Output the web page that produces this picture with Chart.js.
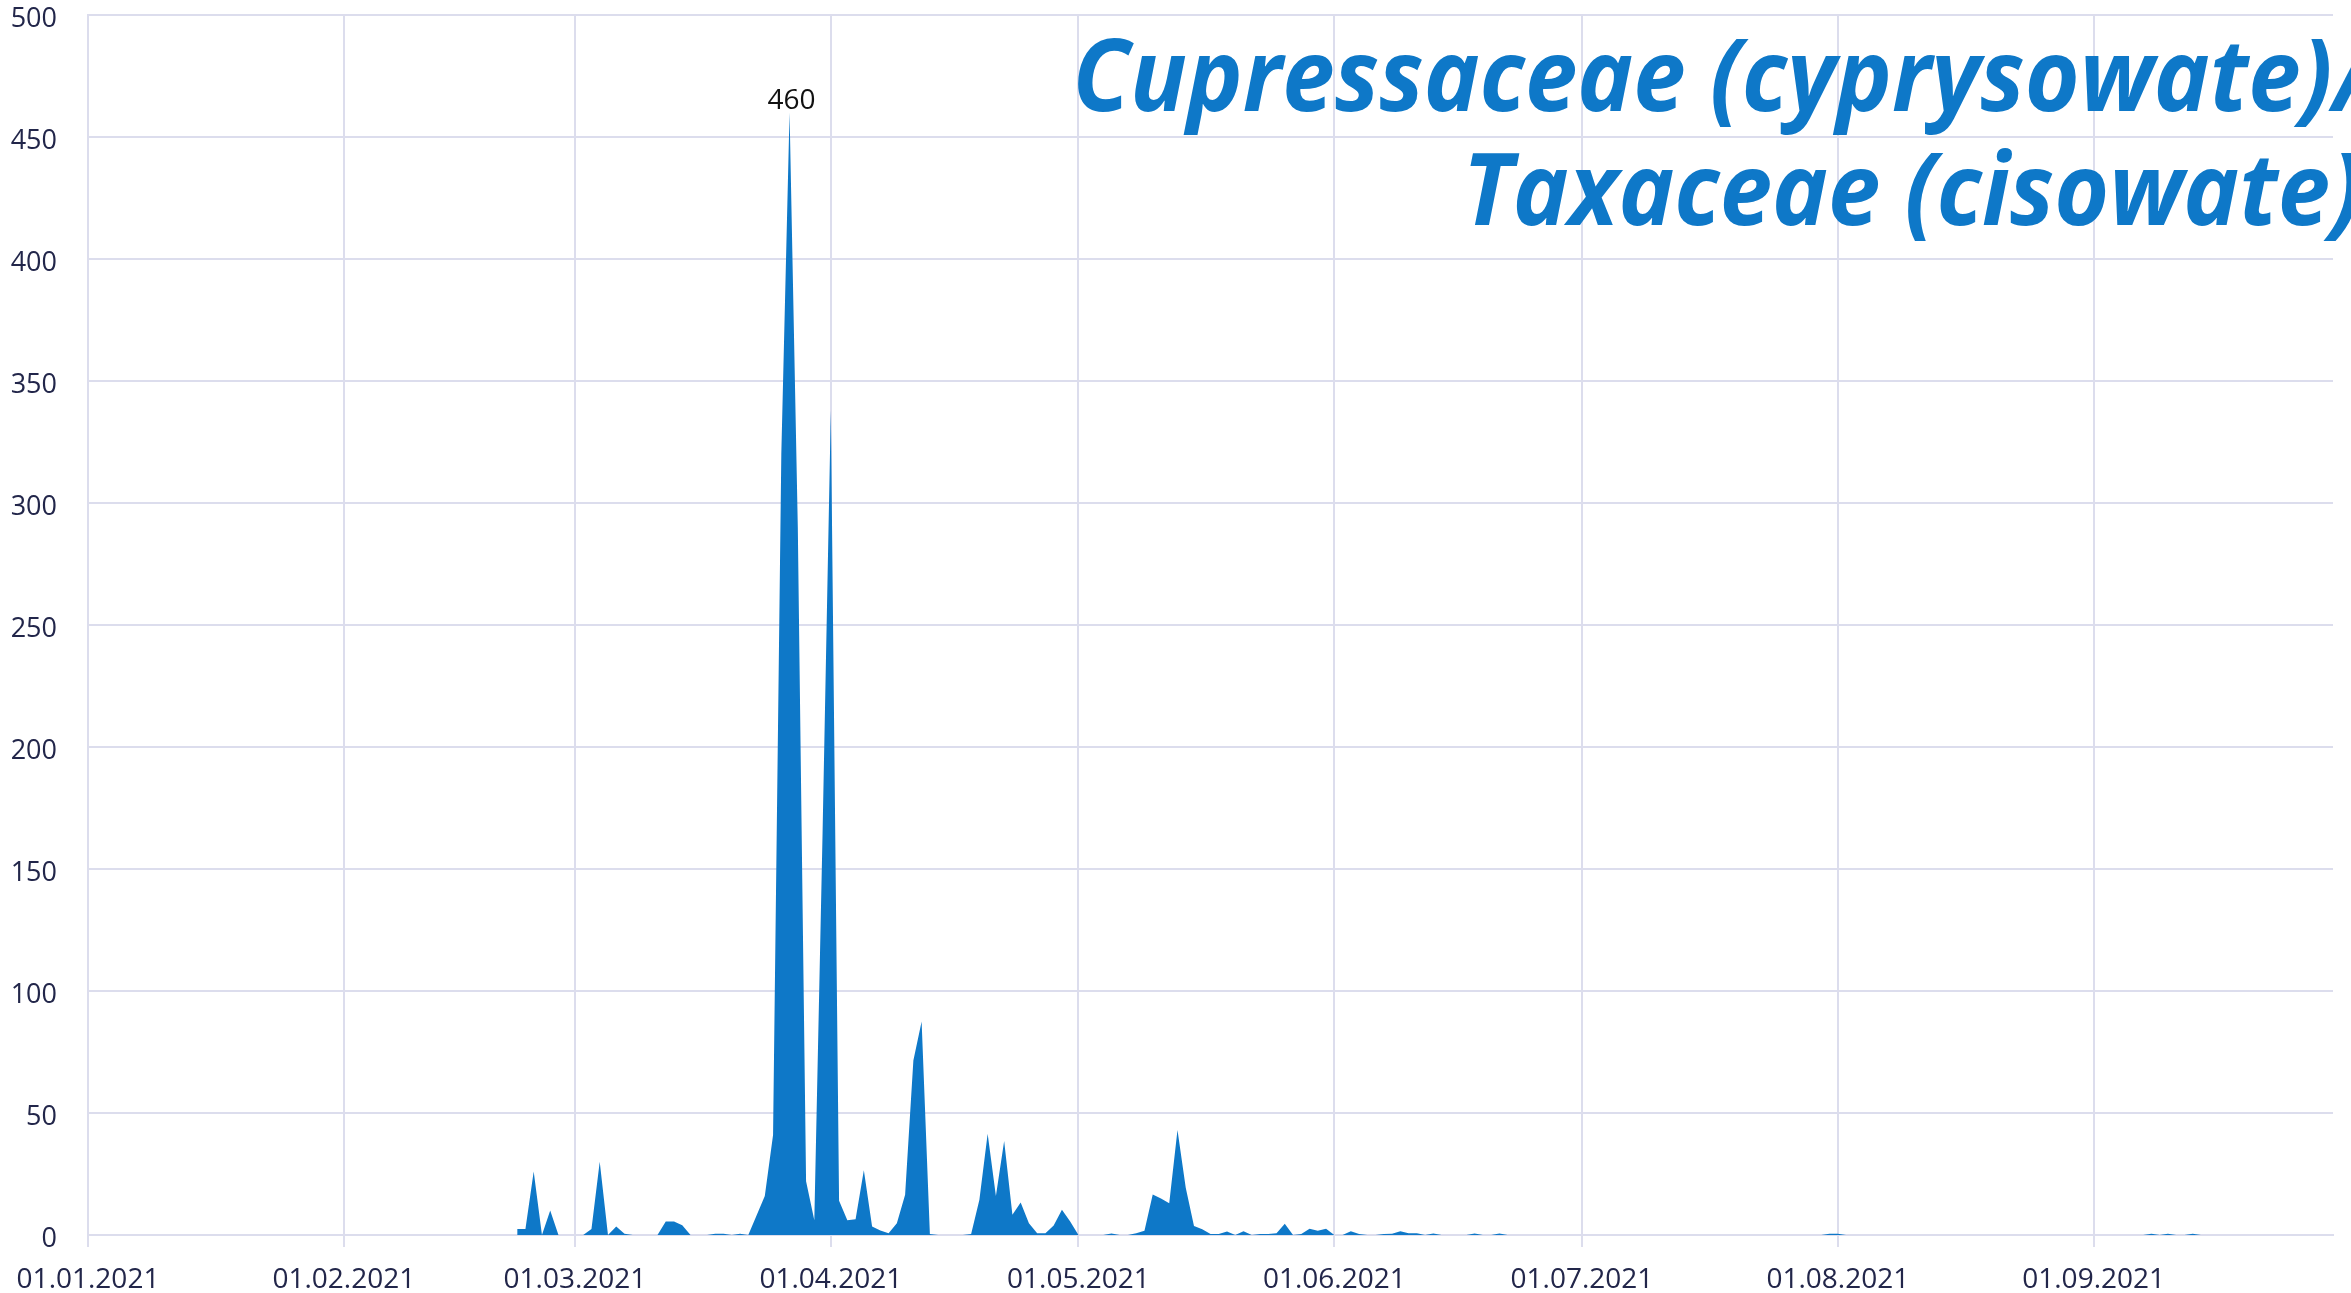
<!DOCTYPE html>
<html>
<head>
<meta charset="utf-8">
<script src="https://cdn.jsdelivr.net/npm/chart.js@4"></script>
<style>
  html, body { margin: 0; padding: 0; background: #fff; }
  #wrap { width: 2351px; height: 1293px; position: relative; }
</style>
</head>
<body>
<div id="wrap"><canvas id="chart"></canvas></div>
<script>
// daily counts, 2021 season (null = no measurement yet)
const year = 2021
const monthLengths = [31, 28, 31, 30, 31, 30, 31, 31, 30]

const janValues = [null, null, null, null, null, null, null, null, null, null, null, null, null, null, null, null,
  null, null, null, null, null, null, null, null, null, null, null, null, null, null, null]
const febValues = [null, null, null, null, null, null, null, null, null, null, null, null, null, null, null, null,
  null, null, null, null, null, 2.5, 2.5, 26, 0, 10, 0, 0]
const marValues = [0, 0, 2.5, 30, 0, 3.5, 0.5, 0, 0, 0, 0, 5.5, 5.5, 4, 0, 0, 0, 0.5, 0.5, 0, 0.5, 0,
  8, 16, 41, 320, 460, 290, 22, 6, 165]
const aprValues = [338, 14, 6, 6.5, 26.5, 3.5, 1.8, 0.7, 4.8, 16.5, 71.5, 87.5, 0.4, 0, 0, 0, 0, 0.4,
  14.4, 41.5, 16, 38.5, 8.3, 13.3, 4.8, 0.7, 0.7, 3.9, 10.3, 5.5]
const mayValues = [0, 0, 0, 0, 0.6, 0, 0, 0.7, 1.7, 16.6, 15, 13, 43, 19.4, 3.7, 2.4, 0.4, 0.4, 1.4, 0,
  1.5, 0, 0.4, 0.4, 0.7, 4.6, 0, 0.4, 2.6, 1.7, 2.6]
const junValues = [0, 0, 1.5, 0.4, 0, 0, 0.4, 0.5, 1.5, 0.7, 0.7, 0, 0.6, 0, 0, 0, 0, 0.6, 0, 0, 0.6,
  0, 0, 0, 0, 0, 0, 0, 0, 0]
const julValues = [0, 0, 0, 0, 0, 0, 0, 0, 0, 0, 0, 0, 0, 0, 0, 0, 0, 0, 0, 0, 0, 0, 0, 0, 0, 0, 0, 0,
  0, 0, 0.5]
const augValues = [0.5, 0, 0, 0, 0, 0, 0, 0, 0, 0, 0, 0, 0, 0, 0, 0, 0, 0, 0, 0, 0, 0, 0, 0, 0, 0, 0, 0,
  0, 0, 0]
const sepValues = [0, 0, 0, 0, 0, 0, 0, 0.5, 0, 0.5, 0, 0, 0.5, 0, 0, 0, 0, 0, 0, 0, 0, 0, 0, 0, 0, 0,
  0, 0, 0, 0]

const yTicks = [0, 50, 100, 150, 200, 250, 300, 350, 400, 450, 500]
const titleLines = ['Cupressaceae (cyprysowate)/', 'Taxaceae (cisowate)']

const values = [].concat(janValues, febValues, marValues, aprValues, mayValues,
  junValues, julValues, augValues, sepValues)

const pad = (n) => String(n).padStart(2, '0')
const labels = []
monthLengths.forEach((len, m) => {
  for (let d = 1; d <= len; d++) labels.push(pad(d) + '.' + pad(m + 1) + '.' + year)
})

const gridColor = '#dcdded'
const blue = '#0e78c8'
const textColor = '#22264a'

const shadowPlugin = {
  id: 'areaShadow',
  beforeDatasetDraw(chart) {
    const ctx = chart.ctx
    ctx.save()
    ctx.shadowColor = 'rgba(0, 0, 0, 0.35)'
    ctx.shadowBlur = 5
    ctx.shadowOffsetX = 2
    ctx.shadowOffsetY = 3
  },
  afterDatasetDraw(chart) {
    chart.ctx.restore()
  }
}

const peakLabel = {
  id: 'peakLabel',
  afterDatasetsDraw(chart) {
    const data = chart.data.datasets[0].data
    let idx = 0
    data.forEach((v, i) => { if (v !== null && (data[idx] === null || v > data[idx])) idx = i })
    const pt = chart.getDatasetMeta(0).data[idx]
    const ctx = chart.ctx
    ctx.save()
    ctx.font = '28px "Open Sans"'
    ctx.fillStyle = '#111'
    ctx.textAlign = 'center'
    ctx.textBaseline = 'alphabetic'
    ctx.fillText(String(data[idx]), pt.x + 2, pt.y - 4)
    ctx.restore()
  }
}

const bigTitle = {
  id: 'bigTitle',
  afterDraw(chart) {
    const ctx = chart.ctx
    ctx.save()
    ctx.font = 'italic 700 100px "Open Sans"'
    ctx.fillStyle = blue
    ctx.textAlign = 'right'
    ctx.textBaseline = 'alphabetic'
    const sx = 0.94
    ctx.scale(sx, 1)
    ctx.fillText(titleLines[0], 2372 / sx, 111)
    ctx.fillText(titleLines[1], 2362 / sx, 225)
    ctx.restore()
  }
}

new Chart(document.getElementById('chart'), {
  type: 'line',
  data: {
    labels: labels,
    datasets: [{
      data: values,
      backgroundColor: blue,
      borderColor: blue,
      borderWidth: 0,
      pointRadius: 0,
      tension: 0,
      fill: 'origin'
    }]
  },
  options: {
    responsive: true,
    maintainAspectRatio: false,
    animation: false,
    layout: { padding: { top: 15, right: 18, left: 0, bottom: 0 } },
    plugins: {
      legend: { display: false },
      tooltip: { enabled: false }
    },
    scales: {
      x: {
        ticks: {
          autoSkip: false,
          maxRotation: 0,
          padding: 16,
          color: textColor,
          font: { family: 'Open Sans', size: 28 },
          callback(val) {
            const l = this.getLabelForValue(val)
            return l.startsWith('01.') ? l : null
          }
        },
        grid: { color: gridColor, lineWidth: 2, tickLength: 12, tickColor: gridColor },
        border: { color: gridColor, width: 2 },
        afterFit(scale) {
          scale.height = 58
          scale.paddingLeft = 0
          scale.paddingRight = 0
        }
      },
      y: {
        min: 0,
        max: 500,
        afterBuildTicks(scale) { scale.ticks = yTicks.map(v => ({ value: v })) },
        ticks: {
          padding: 31,
          labelOffset: 4,
          color: textColor,
          font: { family: 'Open Sans', size: 27 }
        },
        grid: { color: gridColor, lineWidth: 2, drawTicks: false },
        border: { color: gridColor, width: 2 },
        afterFit(scale) {
          scale.width = 88
          scale.paddingTop = 0
          scale.paddingBottom = 0
        }
      }
    }
  },
  plugins: [shadowPlugin, peakLabel, bigTitle]
})
</script>
</body>
</html>
